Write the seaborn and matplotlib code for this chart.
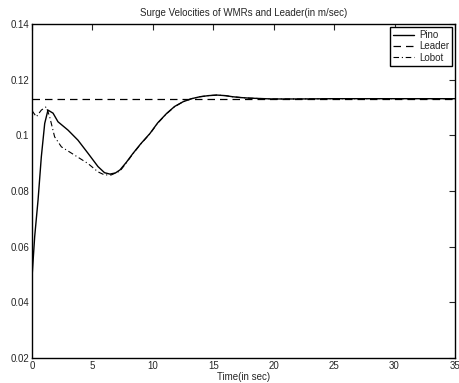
import matplotlib
matplotlib.use('Agg')
import matplotlib.pyplot as plt
import seaborn as sns
import numpy as np

sns.set_style('white')
plt.rcParams['font.family'] = ['Liberation Sans', 'DejaVu Sans']

# values (time in s, velocity in m/s)
t_pino = [0, 0.22, 0.5, 0.77, 1.05, 1.32, 1.74, 2.15, 2.98, 3.8, 4.63, 5.46, 6.0, 6.45,
          6.9, 7.28, 7.8, 8.35, 9.0, 9.76, 10.4, 11.14, 11.8, 12.5, 13.2, 13.9, 14.6,
          15.3, 16.0, 16.6, 17.3, 18.0, 19.9, 22.0, 25.0, 30.0, 35.0]
v_pino = [0.049, 0.0636, 0.0768, 0.0923, 0.1043, 0.1091, 0.1080, 0.1049, 0.1019, 0.0983,
          0.0936, 0.0888, 0.0866, 0.0861, 0.0865, 0.0876, 0.0903, 0.0935, 0.0970, 0.1007,
          0.1045, 0.1079, 0.1104, 0.1121, 0.1132, 0.1139, 0.1143, 0.1145, 0.1143, 0.1139,
          0.1136, 0.1134, 0.1131, 0.1131, 0.1132, 0.1132, 0.1132]

t_lobot = [0, 0.36, 0.77, 1.18, 1.46, 1.87, 2.43, 3.53, 4.63, 5.46, 6.0, 6.56, 7.28, 7.8,
           8.35, 9.0, 9.76, 10.4, 11.14, 11.8, 12.5, 13.2, 13.9, 14.6, 15.3, 16.0, 16.6,
           17.3, 18.0, 19.9, 22.0, 25.0, 30.0, 35.0]
v_lobot = [0.1089, 0.1067, 0.1091, 0.1103, 0.1067, 0.0995, 0.0959, 0.0929, 0.0899, 0.0869,
           0.0858, 0.0858, 0.0872, 0.0901, 0.0934, 0.0969, 0.1006, 0.1044, 0.1078, 0.1103,
           0.1121, 0.1132, 0.1139, 0.1143, 0.1145, 0.1143, 0.1139, 0.1136, 0.1134, 0.1131,
           0.1131, 0.1132, 0.1132, 0.1132]

t_leader = [0, 35]
v_leader = [0.1132, 0.1132]

fig = plt.figure(figsize=(4.6, 3.83), dpi=100)
ax = fig.add_axes([0.0696, 0.0653, 0.9194, 0.8717])

sns.lineplot(x=t_pino, y=v_pino, ax=ax, color='black', lw=1.0, label='Pino')
sns.lineplot(x=t_leader, y=v_leader, ax=ax, color='black', lw=0.9, label='Leader')
sns.lineplot(x=t_lobot, y=v_lobot, ax=ax, color='black', lw=0.8, label='Lobot')
ax.lines[1].set_dashes([6, 4])
ax.lines[2].set_dashes([5, 2.5, 1, 2.5])

ax.set_xlim(0, 35)
ax.set_ylim(0.02, 0.14)
ax.set_xticks(np.arange(0, 36, 5))
ax.set_yticks([0.02, 0.04, 0.06, 0.08, 0.1, 0.12, 0.14])
ax.set_yticklabels(['0.02', '0.04', '0.06', '0.08', '0.1', '0.12', '0.14'])
ax.tick_params(direction='in', top=True, right=True, length=4, width=0.8,
               labelsize=7, pad=2)
for s in ax.spines.values():
    s.set_linewidth(1.0)
    s.set_color('black')

ax.set_xlabel('Time(in sec)', fontsize=7, labelpad=1)
ax.set_ylabel('')
ax.set_title('Surge Velocities of WMRs and Leader(in m/sec)', fontsize=7, pad=6)

leg = ax.legend(loc='upper right', fontsize=7, frameon=True, fancybox=False,
                handlelength=2.2, borderpad=0.3, labelspacing=0.15, handletextpad=0.5,
                borderaxespad=0.3)
leg.get_frame().set_edgecolor('black')
leg.get_frame().set_linewidth(1.0)
leg.get_frame().set_alpha(1)

fig.savefig('out.png', dpi=100, facecolor='white')
